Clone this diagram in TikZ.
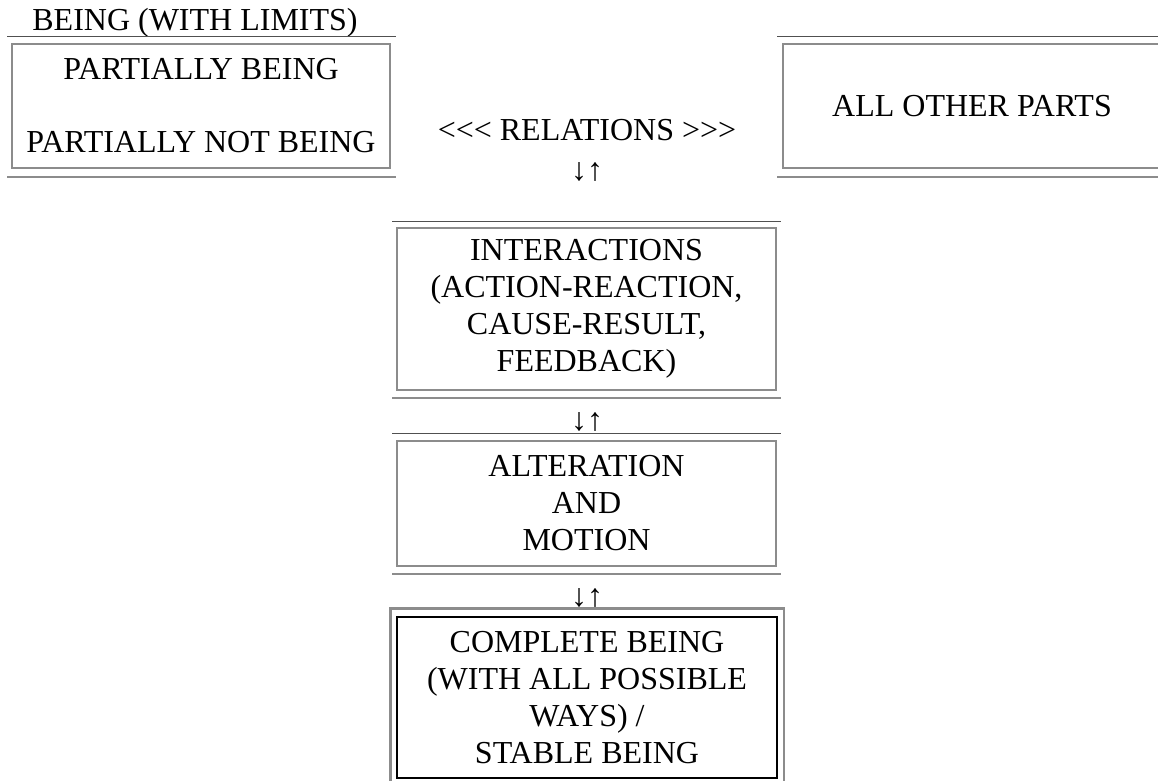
\documentclass[tikz,border=0pt]{standalone}
\usepackage{fontspec}
\setmainfont{Liberation Serif}
\usetikzlibrary{positioning, calc}
\definecolor{RuleDark}{HTML}{505050}
\definecolor{RuleGray}{HTML}{8C8C8C}

\begin{document}
\begin{tikzpicture}[
    x=1pt, y=-1pt,
    every node/.style={font=\fontsize{32}{37}\selectfont, align=center, inner sep=0pt},
    cell/.style={draw=RuleGray, line width=1.5pt, minimum width=378pt},
    toprule/.style={RuleDark, line width=1.5pt},
    botrule/.style={RuleGray, line width=2.5pt},
    updown/.style={anchor=base}
]
  \useasboundingbox (0,0) rectangle (1158,780);
  % Top row
  \node[anchor=base] (limits) at (195,30) {BEING (WITH LIMITS)};
  \node[cell, minimum height=124pt] (partial) at (201,106)
    {PARTIALLY BEING\\[36pt]PARTIALLY NOT BEING};
  \node[cell, minimum height=124pt] (others) at (972,106) {ALL OTHER PARTS};
  \node[anchor=base] (relations) at (587,140) {<\kern0pt<\kern0pt< RELATIONS >\kern0pt>\kern0pt>};
  \node[updown] (ud1) at (587,180) {↓↑};
  % Column
  \node[cell, minimum width=379pt, minimum height=162pt] (interact) at (586.5,309)
    {INTERACTIONS\\(ACTION-REACTION,\\CAUSE-RESULT,\\FEEDBACK)};
  \node[updown] (ud2) at (587,430) {↓↑};
  \node[cell, minimum width=379pt, minimum height=125pt] (alter) at (586.5,503.5)
    {ALTERATION\\AND\\MOTION};
  \node[updown] (ud3) at (587,606) {↓↑};
  \node[draw=black, line width=1.5pt, minimum width=380pt, minimum height=161pt] (complete) at (587,697.5)
    {COMPLETE BEING\\(WITH ALL POSSIBLE\\WAYS) /\\STABLE BEING};
  % Table rules
  \draw[toprule] ($(partial.north west)+(-4,-7)$) -- ($(partial.north east)+(5,-7)$);
  \draw[botrule] ($(partial.south west)+(-4,8)$) -- ($(partial.south east)+(5,8)$);
  \draw[toprule] ($(others.north west)+(-5,-7)$) -- ($(others.north east)+(5,-7)$);
  \draw[botrule] ($(others.south west)+(-5,8)$) -- ($(others.south east)+(5,8)$);
  \draw[toprule] ($(interact.north west)+(-4,-6)$) -- ($(interact.north east)+(4,-6)$);
  \draw[botrule] ($(interact.south west)+(-4,7)$) -- ($(interact.south east)+(4,7)$);
  \draw[toprule] ($(alter.north west)+(-4,-7)$) -- ($(alter.north east)+(4,-7)$);
  \draw[botrule] ($(alter.south west)+(-4,7)$) -- ($(alter.south east)+(4,7)$);
  \draw[RuleGray, line width=2.5pt] ($(complete.south west)+(-6,10)$) rectangle ($(complete.north east)+(6,-8)$);
\end{tikzpicture}
\end{document}
